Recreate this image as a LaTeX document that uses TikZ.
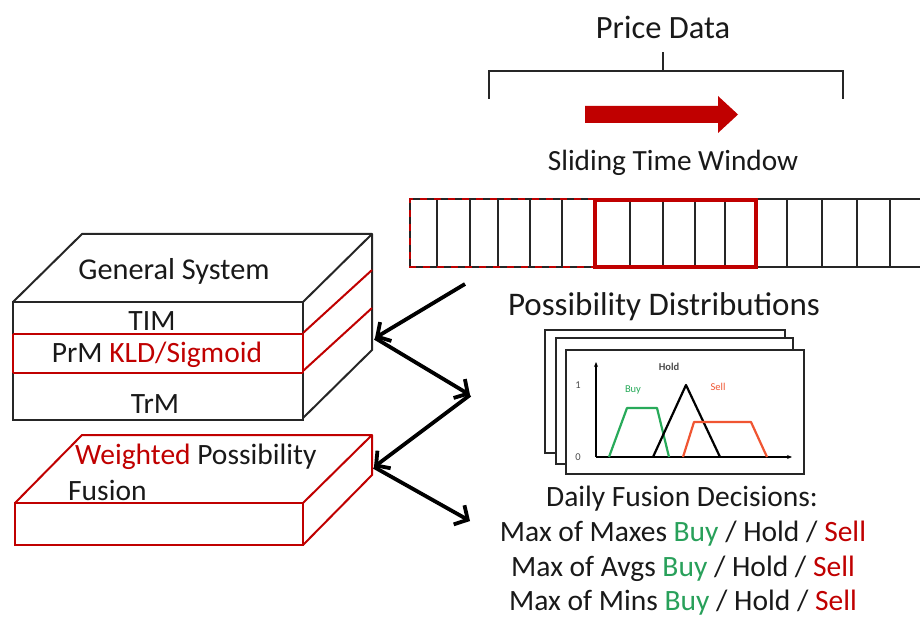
\documentclass[tikz,border=0pt]{standalone}
\usepackage{fontspec}
\setmainfont{Carlito}
\usetikzlibrary{arrows.meta}
\definecolor{dred}{RGB}{192,0,0}
\definecolor{txt}{RGB}{25,25,25}
\definecolor{buyc}{RGB}{40,170,90}
\definecolor{sellc}{RGB}{240,85,50}
\definecolor{greentxt}{RGB}{40,160,90}
\begin{document}
\begin{tikzpicture}[x=1pt,y=-1pt,
  big/.style={font=\fontsize{29.5}{34}\selectfont, text=txt, inner sep=0pt},
  small/.style={font=\fontsize{10.5}{12}\selectfont, inner sep=0pt},
  blk/.style={line width=2pt, draw=black!85},
  redl/.style={line width=2pt, draw=dred},
  flow/.style={line width=3.8pt, draw=black, -{Straight Barb[length=10pt,width=22pt]}},
  frame/.style={draw=black!85, line width=1.5pt, fill=white}]
\useasboundingbox (0,0) rectangle (920,617);

% Price data bracket
\node[big, font=\fontsize{32.5}{36}\selectfont] (price) at (663,27) {Price Data};
\coordinate (bl) at (489,99);
\coordinate (br) at (843,99);
\draw[line width=2.5pt, black!85] (bl) -- (489,71) -- (843,71) -- (br);
\draw[line width=2.5pt, black!85] (663,71) -- (663,52);
% red block arrow
\fill[dred] (585,106) -- (718,106) -- (718,96) -- (738,114.5) -- (718,133) -- (718,123) -- (585,123) -- cycle;
\node[big, font=\fontsize{29.3}{33}\selectfont] (slide) at (673,163) {Sliding Time Window};

% cells
\draw[line width=2pt, black!85] (410,199) -- (920,199);
\draw[line width=2pt, black!85] (410,267) -- (920,267);
\foreach \xx in {410,437,470,498,530,562,630,663,695,725,787,822,857,890}
  \draw[line width=1.5pt, black!85] (\xx,199) -- (\xx,267);
\draw[line width=2pt, dred, dash pattern=on 7pt off 7pt] (595,199) -- (410,199) -- (410,267) -- (595,267);
\draw[line width=2pt, dred, dash pattern=on 7pt off 7pt] (595,199) -- (595,267);
\draw[line width=3.5pt, dred] (595,200) rectangle (756,267);

% General system box
\draw[blk, line join=round] (13,302) -- (82,234) -- (372,234) -- (303,302);
\draw[blk] (13,302) rectangle (303,420);
\draw[blk] (372,234) -- (372,350) -- (303,418);
\draw[redl] (13,334) -- (303,334);
\draw[redl] (13,373) -- (303,373);
\draw[redl] (13,334) -- (13,373);
\draw[redl] (303,334) -- (303,373);
\draw[redl] (303,333) -- (372,270);
\draw[redl] (303,371) -- (372,308);
\node[big, font=\fontsize{30.3}{34}\selectfont] (gs) at (174,271) {General System};
\node[big] (tim) at (152,321) {TIM};
\node[big] (prm) at (157,355) {PrM \textcolor{dred}{KLD/Sigmoid}};
\node[big] (trm) at (155,404) {TrM};

% Fusion box
\draw[redl, line join=round] (15,503) -- (82,435) -- (372,435) -- (303,503);
\draw[redl] (15,503) rectangle (303,545);
\draw[redl] (372,435) -- (372,475) -- (303,545);
\node[big, anchor=west] (wpf) at (75,457) {\textcolor{dred}{Weighted} Possibility};
\node[big, anchor=west] (fus) at (68,490) {Fusion};

% Possibility distributions
\node[big, font=\fontsize{33}{37}\selectfont] (pd) at (664,307) {Possibility Distributions};
\draw[frame] (545,330) rectangle (785,453);
\draw[frame] (556,338) rectangle (793,464);
\draw[frame] (566,350) rectangle (804,474);
\draw[line width=1.2pt, -{Stealth[length=5pt,width=4pt]}] (596,457) -- (596,362);
\draw[line width=1.2pt, -{Stealth[length=5pt,width=4pt]}] (596,457) -- (792,457);
\node[small, text=black!70] (one) at (578,385) {1};
\node[small, text=black!70] (zero) at (578,457) {0};
\draw[line width=2.2pt, buyc, line join=round] (609,457) -- (627,408) -- (657,408) -- (669,457);
\draw[line width=2.2pt, black, line join=round] (653,457) -- (686,385) -- (720,457);
\draw[line width=2.2pt, sellc, line join=round] (683,457) -- (694,422) -- (751,422) -- (767,457);
\node[small, text=black!70, font=\bfseries\fontsize{10.5}{12}\selectfont] (hold) at (669,367) {Hold};
\node[small, text=buyc] (buy) at (633,390) {Buy};
\node[small, text=sellc] (sell) at (718,387) {Sell};

% Decisions
\node[big] (dfd) at (682,499) {Daily Fusion Decisions:};
\node[big] (d1) at (683,534) {Max of Maxes \textcolor{greentxt}{Buy} / Hold / \textcolor{dred}{Sell}};
\node[big] (d2) at (683,569) {Max of Avgs \textcolor{greentxt}{Buy} / Hold / \textcolor{dred}{Sell}};
\node[big] (d3) at (683,603) {Max of Mins \textcolor{greentxt}{Buy} / Hold / \textcolor{dred}{Sell}};

% connectors
\coordinate (winout) at (465,284);
\coordinate (gsR) at (375,338);
\coordinate (pdin) at (470,395);
\coordinate (fuR) at (374,467);
\coordinate (decin) at (470,521);
\draw[flow] (winout) -- (gsR);
\draw[flow] (gsR) -- (pdin);
\draw[flow] (pdin) -- (fuR);
\draw[flow] (fuR) -- (decin);
\end{tikzpicture}
\end{document}
